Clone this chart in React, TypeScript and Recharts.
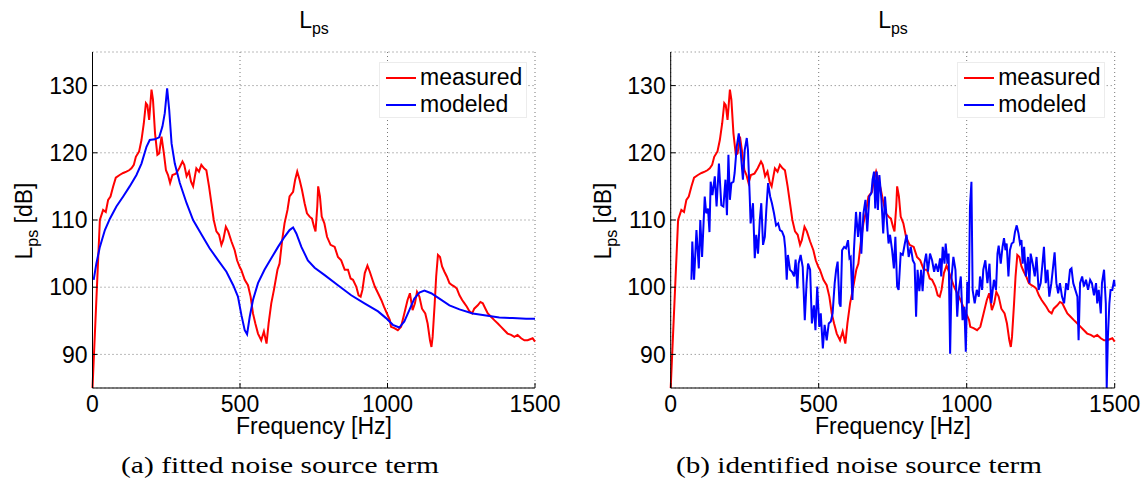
import { CartesianGrid, Legend, Line, LineChart, XAxis, YAxis } from "recharts";

const freqTicks = [0, 500, 1000, 1500];
const levelTicks = [90, 100, 110, 120, 130];

// measured L_ps, same in both panels
const measuredFreq = [
  0, 25, 36, 45, 53, 61, 70, 79, 92, 104, 115, 124, 132, 140, 147, 158, 166, 174, 181, 186,
  192, 200, 205, 212, 220, 226, 234, 242, 249, 256, 263, 271, 283, 294, 305, 311, 319, 327,
  334, 341, 347, 352, 361, 369, 378, 386, 395, 403, 411, 420, 429, 437, 443, 452, 460, 471,
  482, 490, 499, 504, 516, 527, 536, 544, 552, 561, 572, 581, 590, 597, 606, 615, 627, 634,
  643, 651, 661, 668, 680, 687, 694, 702, 710, 719, 727, 736, 744, 751, 756, 762, 765, 771,
  777, 786, 795, 807, 821, 832, 843, 855, 866, 875, 883, 894, 902, 909, 915, 923, 932, 940,
  949, 957, 968, 979, 988, 1000, 1008, 1012, 1023, 1035, 1046, 1057, 1068, 1076, 1085, 1093,
  1100, 1108, 1117, 1128, 1136, 1144, 1149, 1153, 1160, 1165, 1171, 1178, 1185, 1193, 1201,
  1210, 1219, 1227, 1235, 1244, 1253, 1261, 1269, 1278, 1287, 1294, 1306, 1315, 1323, 1332,
  1340, 1351, 1362, 1374, 1385, 1396, 1407, 1419, 1430, 1441, 1453, 1464, 1475, 1492, 1500,
];
const measuredLevel = [
  85, 110, 111.5, 111.2, 113, 113.5, 115, 116.3, 116.7, 117, 117.2, 117.4, 117.7, 118.2, 119.4,
  120.2, 121.9, 124.4, 127.4, 127.1, 124.9, 129.4, 127.9, 122.9, 119.7, 119.9, 122.4, 119.9,
  117.4, 116.7, 115.5, 116.7, 116.9, 117.7, 118.7, 118.2, 116.5, 117.2, 115.7, 115, 116.5,
  117.7, 117.2, 118.2, 117.7, 117.4, 115, 112.5, 110, 108.3, 107.8, 106.3, 107, 109, 108.3,
  106.8, 105.5, 104, 103, 102.6, 101.1, 100.3, 98.6, 96.1, 94.6, 93.1, 92.1, 93.4, 91.6, 94.6,
  97.6, 99.6, 102.6, 103.5, 107, 109.5, 111.5, 113.5, 114.2, 116, 117.2, 116, 114.5, 112.5,
  111, 110.5, 110.2, 109, 108.3, 112, 115, 113.5, 110.5, 109.5, 107.5, 106.3, 106, 104.5, 104,
  102.6, 102.6, 101.3, 101.1, 100.1, 98.8, 98.6, 99.6, 102.1, 103.2, 102.3, 101.1, 100.1, 99.1,
  98.1, 97.1, 95.9, 95.1, 94.1, 93.9, 93.6, 94.1, 96.1, 98.1, 99.1, 96.6, 97.6, 99.3, 98.6,
  96.8, 96.1, 94.6, 92.1, 91.1, 92.6, 97.6, 101.6, 104.8, 104.5, 103.1, 102.3, 101.6, 100.6,
  100.3, 100.1, 99.8, 98.8, 98.1, 97.6, 97.1, 96.4, 96.1, 96.8, 97.3, 97.8, 97.6, 96.8, 96.1,
  95.6, 95.1, 94.6, 94.1, 93.6, 93.1, 92.9, 92.6, 92.9, 92.4, 92.1, 92.1, 92.4, 91.9,
];

// (a) fitted model
const fittedFreq = [
  4, 13, 25, 42, 59, 81, 104, 126, 149, 166, 183, 194, 211, 226, 237, 245, 253, 260, 268, 279,
  296, 319, 341, 370, 397, 426, 454, 477, 493, 505, 516, 524, 533, 544, 561, 583, 606, 629,
  651, 668, 680, 691, 708, 730, 753, 787, 832, 877, 922, 968, 995, 1018, 1040, 1057, 1074,
  1091, 1108, 1125, 1148, 1176, 1210, 1244, 1289, 1334, 1379, 1424, 1470, 1500,
];
const fittedLevel = [
  101.1, 103.5, 106, 108.5, 110.2, 112, 113.5, 115, 116.7, 118.4, 120.9, 121.9, 122, 122.3,
  123.9, 125.9, 129.6, 126.4, 121.4, 118.4, 115.5, 112.5, 110, 107.8, 105.8, 104, 102.3, 100.3,
  98.6, 95.8, 93.6, 93, 95.6, 98.1, 100.6, 102.6, 104.3, 106, 107.5, 108.5, 108.9, 108, 106,
  104, 102.9, 101.8, 100.3, 98.8, 97.6, 96.4, 95.4, 94.4, 94, 94.9, 96.6, 98.3, 99.2, 99.5,
  99.1, 98.3, 97.3, 96.7, 96.1, 95.8, 95.5, 95.4, 95.3, 95.3,
];

// (b) identified model
const identifiedFreq = [
  70, 73, 79, 87, 95, 100, 106, 115, 120, 126, 131, 135, 141, 149, 155, 163, 171, 178, 185, 190,
  195, 200, 205, 212, 216, 223, 230, 236, 244, 250, 257, 261, 267, 270, 278, 284, 289, 295, 301,
  306, 312, 318, 323, 329, 336, 342, 349, 356, 363, 369, 376, 383, 387, 392, 396, 403, 410, 417,
  422, 428, 432, 439, 446, 453, 459, 464, 471, 477, 484, 489, 495, 502, 507, 514, 520, 527, 534,
  541, 547, 554, 559, 564, 570, 574, 579, 586, 592, 599, 604, 608, 614, 619, 626, 633, 640, 644,
  651, 658, 664, 671, 678, 682, 687, 691, 696, 700, 705, 712, 718, 724, 730, 736, 741, 748, 754,
  759, 765, 770, 777, 784, 791, 797, 804, 811, 818, 824, 829, 834, 840, 846, 851, 857, 863, 869,
  876, 883, 890, 896, 903, 910, 914, 919, 925, 929, 935, 939, 944, 949, 955, 962, 968, 973, 980,
  986, 992, 997, 1002, 1007, 1011, 1016, 1020, 1027, 1034, 1041, 1045, 1052, 1056, 1063, 1070,
  1077, 1083, 1088, 1092, 1099, 1104, 1108, 1115, 1121, 1126, 1131, 1135, 1141, 1146, 1152, 1158,
  1163, 1169, 1175, 1180, 1185, 1189, 1194, 1200, 1207, 1212, 1216, 1223, 1230, 1236, 1243, 1250,
  1257, 1261, 1267, 1273, 1279, 1286, 1293, 1297, 1303, 1309, 1315, 1322, 1329, 1336, 1342, 1349,
  1354, 1360, 1367, 1374, 1378, 1383, 1390, 1396, 1403, 1410, 1417, 1423, 1430, 1437, 1441, 1446,
  1453, 1457, 1464, 1470, 1473, 1477, 1482, 1486, 1492, 1498, 1500,
];
const identifiedLevel = [
  101.1, 106.8, 101.1, 108.5, 102.8, 110, 104.5, 113.5, 111, 111.7, 108.2, 115.7, 113.7, 116.5,
  112, 118.4, 112.2, 112, 116, 110.7, 119.7, 113, 115.5, 115.7, 117, 120.9, 122.9, 120.4, 116,
  120.4, 122.2, 120.4, 113.5, 109.5, 112.5, 104.3, 107.8, 105, 110, 112.5, 106.3, 107.5, 111.5,
  115.5, 113.5, 112.5, 111, 109.2, 109.5, 108.5, 108.3, 107.5, 105.8, 101.1, 104.8, 102.6, 102.3,
  101.6, 104.1, 99.8, 103.5, 104.8, 103, 95.1, 100.6, 103.5, 102.6, 94.6, 97.3, 93.6, 100.1,
  94.1, 96.1, 90.9, 94.4, 92.1, 94.6, 94.9, 96.1, 100.6, 102.6, 103.8, 97.6, 97.1, 105.5, 106,
  105.8, 107, 104.3, 104.5, 98.1, 105.5, 111.2, 107.5, 111.2, 105, 110.9, 113, 108.3, 113.5, 114,
  116, 117.2, 111.7, 117.2, 111.5, 116.7, 113, 108, 113.5, 110, 106.5, 107.8, 105.5, 102.8,
  107.5, 100.1, 99.6, 105, 104.8, 106.5, 107.8, 104.5, 106, 104, 103.5, 95.6, 102.6, 99.4, 102.6,
  99.4, 103.5, 105, 102.3, 105, 104, 102.3, 103.5, 102.3, 104.3, 101.6, 106, 103.5, 106.5, 103.5,
  105, 90.1, 101.6, 104.5, 102.6, 95.6, 99.4, 101.6, 95.1, 97.1, 90.4, 100.8, 97.6, 112, 115.7,
  99.6, 97.6, 99.6, 98.6, 101.6, 99.6, 102.6, 104, 100.6, 103.5, 97.6, 99.6, 101.1, 99.6, 105,
  106.2, 103.5, 106, 107.3, 105.5, 106.5, 101.6, 105.5, 106.5, 106.7, 108.2, 109.2, 108, 106.5,
  107, 103.5, 106, 101.6, 104.5, 100.6, 105, 103.5, 101.6, 104.5, 99.6, 100.6, 104, 106, 100.6,
  102.6, 98.6, 100.6, 103.5, 105.2, 100.6, 99.1, 100.6, 98.6, 97.6, 100.6, 99.6, 102.6, 102.8,
  100.6, 99.6, 98.6, 92.1, 100.6, 101.6, 100.1, 101.1, 99.6, 101.1, 100.6, 98.8, 100.6, 97.6,
  99.6, 96.1, 100.6, 102.6, 97.6, 85, 92.6, 97.6, 99.6, 99.6, 101.1, 100.1,
];

const zip = (f: number[], v: number[]) => f.map((x, i) => ({ f: x, v: v[i] }));

const measured = zip(measuredFreq, measuredLevel);
const fitted = zip(fittedFreq, fittedLevel);
const identified = zip(identifiedFreq, identifiedLevel);

const FONT = 23;

function LegendBox(props: any) {
  const items = props.payload || [];
  return (
    <div
      style={{
        background: "#fff",
        border: "1px solid #ececec",
        width: 148,
        height: 56,
        boxSizing: "border-box",
        paddingLeft: 6,
        paddingTop: 1,
      }}
    >
      {items.map((e: any) => (
        <div
          key={e.value}
          style={{ display: "flex", alignItems: "center", height: 27, fontSize: FONT, color: "#000" }}
        >
          <svg width={30} height={4}>
            <line x1={0} x2={30} y1={2} y2={2} stroke={e.color} strokeWidth={2} />
          </svg>
          <span style={{ marginLeft: 4 }}>{e.value}</span>
        </div>
      ))}
    </div>
  );
}

function Panel({ x, w, ml, mr, modeled }: { x: number; w: number; ml: number; mr: number; modeled: { f: number; v: number }[] }) {
  const axisProps = {
    stroke: "#000",
    tickSize: -5,
    interval: 0 as const,
  };
  return (
    <div style={{ position: "absolute", left: x, top: 0 }}>
      <LineChart width={w} height={440} margin={{ top: 52, right: mr, bottom: 22, left: ml }}>
        <CartesianGrid stroke="#777" strokeDasharray="1 3" />
        <XAxis
          {...axisProps}
          dataKey="f"
          type="number"
          domain={[0, 1500]}
          ticks={freqTicks}
          height={30}
          tickMargin={13}
          tick={{ fontSize: FONT, fill: "#000" }}
        />
        <XAxis
          {...axisProps}
          xAxisId="top"
          orientation="top"
          dataKey="f"
          type="number"
          domain={[0, 1500]}
          ticks={freqTicks}
          height={0}
          tick={false}
        />
        <YAxis
          {...axisProps}
          type="number"
          domain={[85, 135]}
          ticks={levelTicks}
          width={60}
          tickMargin={10}
          tick={{ fontSize: FONT, fill: "#000" }}
        />
        <YAxis
          {...axisProps}
          yAxisId="right"
          orientation="right"
          type="number"
          domain={[85, 135]}
          ticks={levelTicks}
          width={0}
          tick={false}
        />
        <Legend
          layout="horizontal"
          verticalAlign="middle"
          align="center"
          content={LegendBox}
          wrapperStyle={{ position: "absolute", left: 379 + (ml - 32.5), top: 62, width: "auto" }}
        />
        <Line
          data={measured}
          dataKey="v"
          name="measured"
          stroke="#ff0000"
          strokeWidth={2}
          dot={false}
          type="linear"
          isAnimationActive={false}
        />
        <Line
          data={modeled}
          dataKey="v"
          name="modeled"
          stroke="#0000ff"
          strokeWidth={2}
          dot={false}
          type="linear"
          isAnimationActive={false}
        />
      </LineChart>
    </div>
  );
}

function Texts({ cx, ylx, capx, caption, capw }: { cx: number; ylx: number; capx: number; caption: string; capw: number }) {
  return (
    <g>
      <text x={cx} y={28} textAnchor="middle" fontSize={FONT}>
        L<tspan fontSize={16} dy={6}>ps</tspan>
      </text>
      <text x={cx} y={434} textAnchor="middle" fontSize={FONT}>
        Frequency [Hz]
      </text>
      <text x={ylx} y={221} transform={`rotate(-90 ${ylx} 221)`} textAnchor="middle" fontSize={FONT}>
        L<tspan fontSize={16} dy={6}>ps</tspan>
        <tspan dy={-6}>{" [dB]"}</tspan>
      </text>
      <text
        x={capx}
        y={473}
        textAnchor="middle"
        fontSize={24}
        textLength={capw}
        lengthAdjust="spacingAndGlyphs"
        fontFamily='"Liberation Serif", "DejaVu Serif", serif'
      >
        {caption}
      </text>
    </g>
  );
}

export default function App() {
  return (
    <div
      style={{
        position: "absolute",
        left: 0,
        top: 0,
        width: 1146,
        height: 492,
        background: "#fff",
        fontFamily: '"Liberation Sans", Arial, sans-serif',
      }}
    >
      <Panel x={0} w={572} ml={32.5} mr={37} modeled={fitted} />
      <Panel x={578} w={568} ml={32.7} mr={31.3} modeled={identified} />
      <svg
        width={1146}
        height={492}
        style={{ position: "absolute", left: 0, top: 0, pointerEvents: "none" }}
      >
        <Texts cx={314} ylx={32} capx={280} capw={318} caption="(a) fitted noise source term" />
        <Texts cx={893} ylx={611} capx={859} capw={366} caption="(b) identified noise source term" />
      </svg>
    </div>
  );
}
